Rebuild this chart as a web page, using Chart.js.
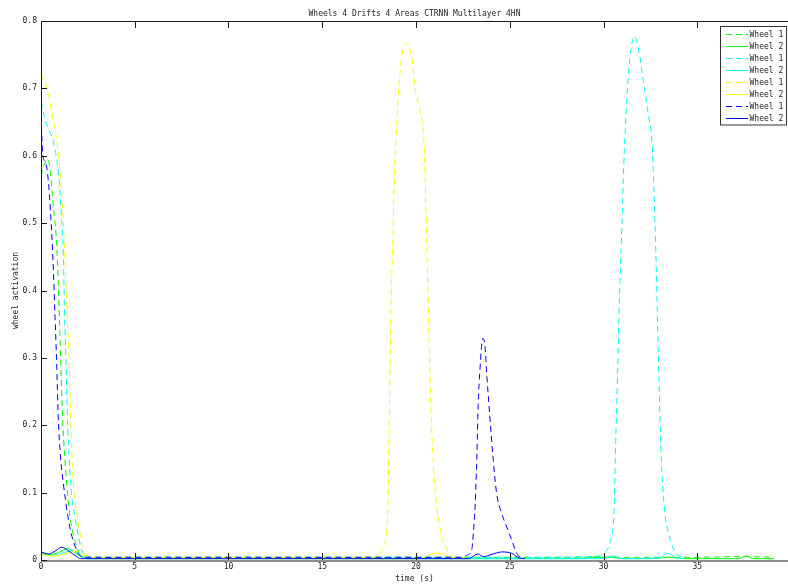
<!DOCTYPE html>
<html>
<head>
<meta charset="utf-8">
<script src="https://cdn.jsdelivr.net/npm/chart.js@4/dist/chart.umd.min.js"></script>
<style>
  html, body { margin: 0; padding: 0; background: #ffffff; }
  #c { display: block; }
</style>
</head>
<body>
<canvas id="c" width="788" height="588"></canvas>
<script>
// Axis ticks
const xTicks = [0, 5, 10, 15, 20, 25, 30, 35];
const yTicks = [0, 0.1, 0.2, 0.3, 0.4, 0.5, 0.6, 0.7, 0.8];

// Series names, in legend order
const seriesLabels = ['Wheel 1', 'Wheel 2', 'Wheel 1', 'Wheel 2', 'Wheel 1', 'Wheel 2', 'Wheel 1', 'Wheel 2'];

// Green run
const tGreen1 = [0, 0.15, 0.35, 0.5, 0.64, 0.84, 0.98, 1.05, 1.15, 1.25, 1.37, 1.55, 1.75, 1.97, 2.2, 2.5, 3, 8, 15, 20, 26, 28.8, 29.6, 30.4, 31.2, 33, 34.5, 37.6, 39.1];
const vGreen1 = [0.57, 0.585, 0.595, 0.575, 0.53, 0.465, 0.36, 0.297, 0.212, 0.16, 0.114, 0.064, 0.035, 0.015, 0.007, 0.005, 0.004, 0.004, 0.004, 0.004, 0.004, 0.004, 0.005, 0.004, 0.004, 0.004, 0.004, 0.005, 0.004];
const tGreen2 = [0, 0.5, 1.0, 1.45, 1.8, 2.2, 2.4, 5, 15, 25, 28.8, 29.5, 30.5, 31, 32.5, 33.5, 34.3, 37.2, 37.6, 38, 39.1];
const vGreen2 = [0.010, 0.008, 0.012, 0.017, 0.011, 0.004, 0.002, 0.002, 0.002, 0.002, 0.002, 0.004, 0.004, 0.002, 0.002, 0.004, 0.002, 0.002, 0.006, 0.002, 0.002];

// Cyan run
const tCyan1 = [0, 0.2, 0.4, 0.64, 0.84, 1.0, 1.1, 1.19, 1.26, 1.33, 1.41, 1.58, 1.81, 2.0, 2.17, 2.4, 2.7, 5, 15, 25, 29.46, 30.02, 30.38, 30.56, 30.65, 30.75, 30.84, 30.93, 31.02, 31.11, 31.2, 31.3, 31.48, 31.66, 31.85, 32.13, 32.4, 32.59, 32.68, 32.77, 32.86, 32.95, 33.05, 33.23, 33.5, 33.87, 34.14, 34.3];
const vCyan1 = [0.68, 0.656, 0.64, 0.623, 0.594, 0.553, 0.505, 0.455, 0.36, 0.297, 0.212, 0.114, 0.064, 0.035, 0.015, 0.006, 0.004, 0.004, 0.004, 0.004, 0.005, 0.010, 0.030, 0.071, 0.173, 0.276, 0.378, 0.454, 0.531, 0.608, 0.659, 0.710, 0.761, 0.777, 0.761, 0.710, 0.659, 0.618, 0.557, 0.480, 0.378, 0.276, 0.173, 0.082, 0.036, 0.010, 0.005, 0.004];
const tCyan2 = [0, 0.6, 1.2, 1.65, 2.0, 2.4, 2.6, 5, 15, 25, 30, 30.5, 31, 33, 33.4, 33.9, 34.3];
const vCyan2 = [0.009, 0.007, 0.011, 0.014, 0.009, 0.003, 0.002, 0.002, 0.002, 0.002, 0.002, 0.006, 0.002, 0.003, 0.010, 0.003, 0.002];

// Yellow run
const tYellow1 = [0, 0.1, 0.2, 0.39, 0.6, 0.84, 1.1, 1.28, 1.4, 1.5, 1.58, 1.72, 1.95, 2.1, 2.24, 2.5, 2.8, 5, 15, 17.6, 17.94, 18.3, 18.49, 18.58, 18.67, 18.77, 18.86, 18.95, 19.04, 19.23, 19.5, 19.78, 19.96, 20.24, 20.43, 20.52, 20.61, 20.7, 20.8, 20.98, 21.25, 21.63, 22.0, 22.6];
const vYellow1 = [0.72, 0.715, 0.71, 0.693, 0.66, 0.623, 0.545, 0.445, 0.36, 0.297, 0.212, 0.114, 0.064, 0.035, 0.015, 0.006, 0.004, 0.004, 0.004, 0.004, 0.006, 0.022, 0.068, 0.222, 0.376, 0.479, 0.581, 0.633, 0.684, 0.745, 0.767, 0.745, 0.699, 0.663, 0.617, 0.530, 0.427, 0.325, 0.222, 0.119, 0.053, 0.017, 0.004, 0.004];
const tYellow2 = [0, 0.7, 1.4, 1.85, 2.2, 2.6, 2.8, 5, 15, 20.3, 20.7, 21.1, 21.5, 21.8, 22.6];
const vYellow2 = [0.008, 0.006, 0.010, 0.013, 0.008, 0.003, 0.002, 0.002, 0.002, 0.002, 0.008, 0.010, 0.008, 0.003, 0.002];

// Blue run
const tBlue1 = [0, 0.1, 0.25, 0.4, 0.5, 0.64, 0.75, 0.83, 0.92, 1.05, 1.19, 1.44, 1.65, 1.9, 2.1, 2.4, 5, 15, 22.5, 22.7, 22.97, 23.06, 23.15, 23.24, 23.32, 23.41, 23.56, 23.68, 23.77, 23.95, 24.12, 24.3, 24.57, 24.84, 25.1, 25.37, 25.55, 25.8];
const vBlue1 = [0.66, 0.6, 0.59, 0.56, 0.52, 0.445, 0.36, 0.297, 0.212, 0.15, 0.114, 0.064, 0.035, 0.015, 0.006, 0.004, 0.004, 0.004, 0.004, 0.007, 0.015, 0.04, 0.079, 0.148, 0.233, 0.282, 0.329, 0.317, 0.277, 0.208, 0.148, 0.099, 0.069, 0.049, 0.030, 0.010, 0.004, 0.003];
const tBlue2 = [0, 0.4, 0.8, 1.1, 1.5, 1.9, 2.1, 5, 15, 22.8, 23.3, 23.6, 24.0, 24.6, 25.1, 25.5, 25.8];
const vBlue2 = [0.012, 0.009, 0.014, 0.019, 0.013, 0.005, 0.002, 0.002, 0.002, 0.002, 0.009, 0.005, 0.008, 0.012, 0.010, 0.003, 0.002];

const FONT = "'DejaVu Sans Mono', monospace";
const TEXT = '#262626';
const DASH = [6, 4];

function pts(ts, vs) { return ts.map((t, i) => ({ x: t, y: vs[i] })); }

const runs = [
  { t: tGreen1, v: vGreen1, color: 'rgb(0,255,0)', dash: DASH },
  { t: tGreen2, v: vGreen2, color: 'rgb(0,255,0)', dash: [] },
  { t: tCyan1, v: vCyan1, color: 'rgb(0,255,255)', dash: DASH },
  { t: tCyan2, v: vCyan2, color: 'rgb(0,255,255)', dash: [] },
  { t: tYellow1, v: vYellow1, color: 'rgb(255,255,0)', dash: DASH },
  { t: tYellow2, v: vYellow2, color: 'rgb(255,255,0)', dash: [] },
  { t: tBlue1, v: vBlue1, color: 'rgb(0,0,255)', dash: DASH },
  { t: tBlue2, v: vBlue2, color: 'rgb(0,0,255)', dash: [] }
];

const datasets = runs.map((r, i) => ({
  label: seriesLabels[i],
  data: pts(r.t, r.v),
  borderColor: r.color,
  borderDash: r.dash,
  borderWidth: 1,
  pointRadius: 0,
  fill: false,
  cubicInterpolationMode: 'monotone',
  order: runs.length - i   // later runs are painted over earlier ones
}));

// Box frame with inward tick marks
const framePlugin = {
  id: 'frame',
  afterDatasetsDraw(chart) {
    const { ctx, chartArea: { left, top, right, bottom }, scales: { x, y } } = chart;
    ctx.save();
    ctx.setLineDash([]);
    ctx.strokeStyle = '#8c8c8c';
    ctx.lineWidth = 2;
    ctx.beginPath();
    ctx.moveTo(left, bottom + 1);
    ctx.lineTo(right, bottom + 1);
    ctx.stroke();
    ctx.strokeStyle = '#1a1a1a';
    ctx.lineWidth = 1;
    ctx.beginPath();
    ctx.moveTo(left + 0.5, top);
    ctx.lineTo(left + 0.5, bottom + 1);
    ctx.moveTo(left, top + 0.5);
    ctx.lineTo(right, top + 0.5);
    xTicks.forEach(v => {
      const px = Math.round(x.getPixelForValue(v)) + 0.5;
      ctx.moveTo(px, bottom);
      ctx.lineTo(px, bottom - 7);
      ctx.moveTo(px, top);
      ctx.lineTo(px, top + 7);
    });
    yTicks.forEach(v => {
      const py = Math.round(y.getPixelForValue(v)) + 0.5;
      ctx.moveTo(left, py);
      ctx.lineTo(left + 6, py);
    });
    ctx.stroke();
    ctx.restore();
  }
};

// Boxed legend in the upper right corner of the plot
const boxLegendPlugin = {
  id: 'boxLegend',
  afterDraw(chart) {
    const { ctx } = chart;
    const bx = 720.5, by = 26.5, bw = 66, bh = 98.5;
    ctx.save();
    ctx.fillStyle = '#ffffff';
    ctx.fillRect(bx, by, bw, bh);
    ctx.strokeStyle = '#333333';
    ctx.lineWidth = 1;
    ctx.setLineDash([]);
    ctx.strokeRect(bx, by, bw, bh);
    ctx.font = '8px ' + FONT;
    ctx.textBaseline = 'middle';
    ctx.textAlign = 'left';
    chart.data.datasets.forEach((ds, i) => {
      const yy = Math.round(33.5 + i * 12.1) + 0.5;
      ctx.strokeStyle = ds.borderColor;
      ctx.setLineDash(ds.borderDash);
      ctx.beginPath();
      ctx.moveTo(726, yy);
      ctx.lineTo(748, yy);
      ctx.stroke();
      ctx.setLineDash([]);
      ctx.fillStyle = TEXT;
      ctx.fillText(ds.label, 749.5, yy);
    });
    ctx.restore();
  }
};

new Chart(document.getElementById('c'), {
  type: 'line',
  data: { datasets },
  options: {
    responsive: false,
    devicePixelRatio: 1,
    animation: false,
    layout: { padding: 0 },
    plugins: {
      legend: { display: false },
      tooltip: { enabled: false },
      title: {
        display: true,
        text: 'Wheels 4 Drifts 4 Areas CTRNN Multilayer 4HN',
        fullSize: false,
        color: TEXT,
        font: { family: FONT, size: 8, weight: 'normal' },
        padding: { top: 9, bottom: 2.4 }
      }
    },
    scales: {
      x: {
        type: 'linear',
        min: 0,
        max: 39.84,
        afterBuildTicks: s => { s.ticks = xTicks.map(v => ({ value: v })); },
        afterFit: s => { s.height = 28; },
        grid: { display: false, drawTicks: false },
        border: { display: false },
        ticks: {
          autoSkip: false,
          maxRotation: 0,
          padding: 2,
          color: TEXT,
          font: { family: FONT, size: 8 },
          callback: v => String(v)
        },
        title: {
          display: true,
          text: 'time (s)',
          color: TEXT,
          font: { family: FONT, size: 8 },
          padding: { top: 0, bottom: 4.2 }
        }
      },
      y: {
        type: 'linear',
        min: 0,
        max: 0.8,
        afterBuildTicks: s => { s.ticks = yTicks.map(v => ({ value: v })); },
        afterFit: s => { s.width = 41; },
        grid: { display: false, drawTicks: false },
        border: { display: false },
        ticks: {
          autoSkip: false,
          padding: 4,
          color: TEXT,
          font: { family: FONT, size: 8 },
          callback: v => (v === 0 ? '0' : v.toFixed(1))
        },
        title: {
          display: true,
          text: 'wheel activation',
          color: TEXT,
          font: { family: FONT, size: 8 },
          padding: { top: 11.5, bottom: 0 }
        }
      }
    }
  },
  plugins: [framePlugin, boxLegendPlugin]
});
</script>
</body>
</html>
